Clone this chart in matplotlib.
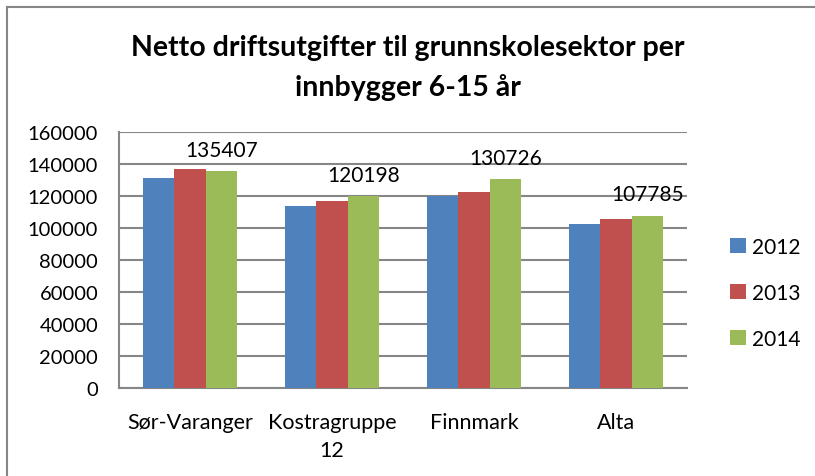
import numpy as np
import matplotlib.pyplot as plt
from matplotlib.lines import Line2D

categories = ['Sør-Varanger', 'Kostragruppe\n12', 'Finnmark', 'Alta']
years = ['2012', '2013', '2014']
v2012 = [131000, 114000, 120000, 102500]
v2013 = [136900, 116900, 122300, 105600]
v2014 = [135407, 120198, 130726, 107785]
colors = ['#4F81BD', '#C0504D', '#9BBB59']


def main():
    plt.rcParams['font.family'] = ['Lato', 'DejaVu Sans']
    fig = plt.figure(figsize=(8.15, 4.77), dpi=100)
    ax = fig.add_axes([0.146, 0.1845, 0.697, 0.5365])

    x = np.arange(len(categories))
    w = 1 / 4.5
    series = [v2012, v2013, v2014]
    for i, (vals, yr, c) in enumerate(zip(series, years, colors)):
        ax.bar(x + (i - 1) * w, vals, width=w, color=c, label=yr, zorder=3)

    for xi, v in zip(x, v2014):
        ax.annotate(str(v), (xi + w, v), xytext=(0, 8), textcoords='offset points',
                    ha='center', va='bottom', fontsize=15, color='black')

    ax.set_xlim(-0.5, len(categories) - 0.5)
    ax.set_ylim(0, 160000)
    ax.set_yticks(np.arange(0, 160001, 20000))
    ax.set_xticks(x)
    ax.set_xticklabels(categories, fontsize=15.5, linespacing=1.5)
    ax.tick_params(axis='y', labelsize=14.5, length=0, pad=15)
    ax.tick_params(axis='x', length=0, pad=17)
    ax.grid(axis='y', color='#868686', linewidth=1.5, zorder=0)
    for s in ['top', 'right']:
        ax.spines[s].set_visible(False)
    for s in ['left', 'bottom']:
        ax.spines[s].set_color('#868686')
        ax.spines[s].set_linewidth(1.5)

    ax.legend(loc='center left', bbox_to_anchor=(1.058, 0.372), frameon=False,
              fontsize=15, handlelength=0.75, handleheight=0.75, handletextpad=0.3,
              labelspacing=1.25, borderpad=0)

    fig.text(0.5, 0.857, 'Netto driftsutgifter til grunnskolesektor per\ninnbygger 6-15 år',
             ha='center', va='center', fontsize=20.5, fontweight='bold', linespacing=1.6)

    # outer chart border (left and top edges only visible)
    fig.add_artist(Line2D([6.5 / 815, 6.5 / 815], [0, 1 - 7.5 / 477],
                          transform=fig.transFigure, color='#868686', linewidth=1.5))
    fig.add_artist(Line2D([6.5 / 815, 1], [1 - 7.5 / 477, 1 - 7.5 / 477],
                          transform=fig.transFigure, color='#868686', linewidth=1.5))

    fig.savefig('out.png', dpi=100, facecolor='white')


if __name__ == '__main__':
    main()
